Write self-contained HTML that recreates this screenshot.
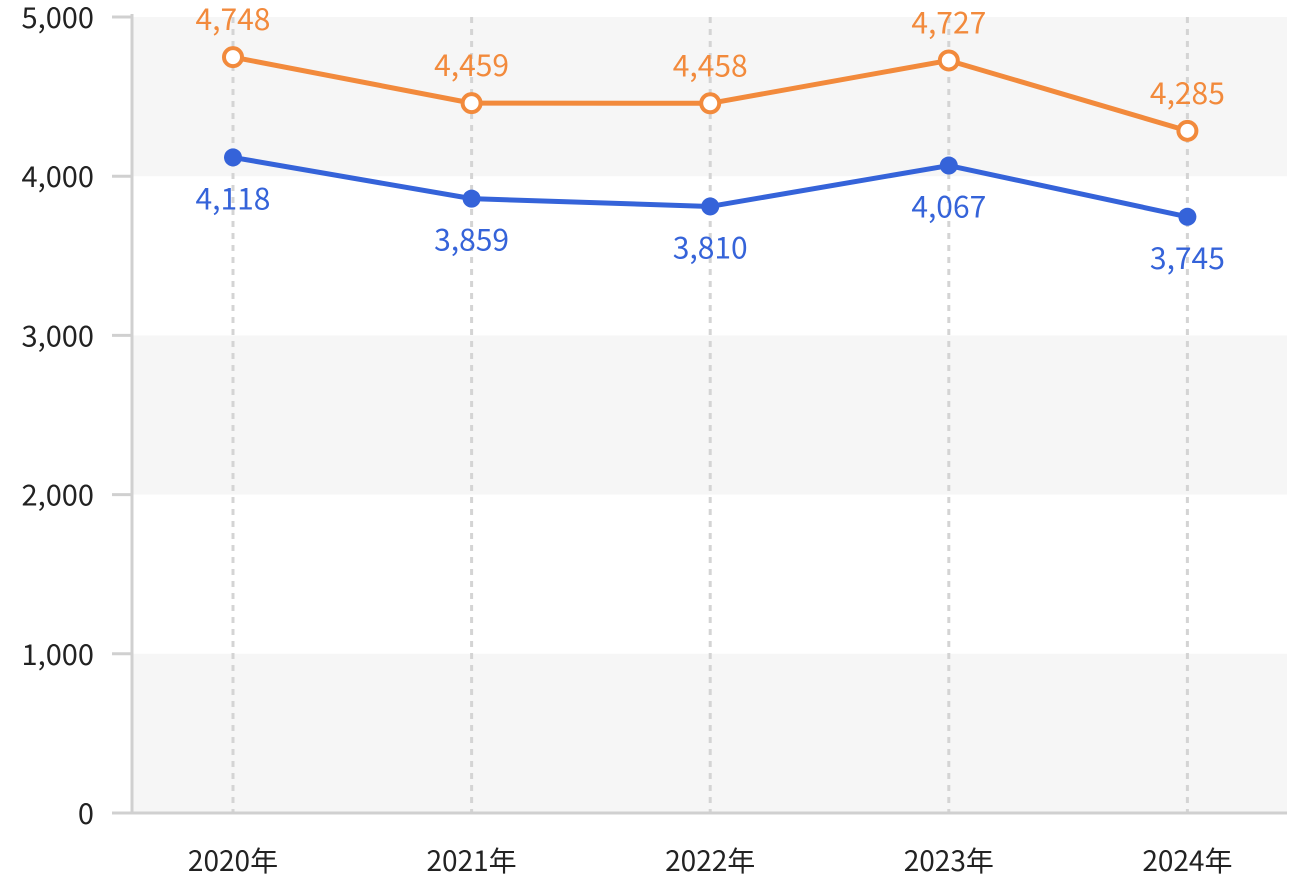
<!DOCTYPE html>
<html><head><meta charset="utf-8"><style>
html,body{margin:0;padding:0;background:#fff;}
svg{display:block;font-family:"Noto Sans CJK JP","Liberation Sans",sans-serif;}
</style></head><body>
<svg id="chart" width="1300" height="876" viewBox="0 0 1300 876"></svg>
<script>
const categories=["2020年","2021年","2022年","2023年","2024年"];
const seriesOrange=[4748,4459,4458,4727,4285];
const seriesBlue=[4118,3859,3810,4067,3745];
const yTicks=[0,1000,2000,3000,4000,5000];
const yTickLabels=["0","1,000","2,000","3,000","4,000","5,000"];
const NS="http://www.w3.org/2000/svg";
const svg=document.getElementById('chart');
const x0=132,x1=1287,yTop=17,yBot=813,yMax=5000;
const step=238.6,first=233;
function xs(i){return first+i*step;}
function ys(v){return yBot-(v/yMax)*(yBot-yTop);}
function mk(t,a,parent){const e=document.createElementNS(NS,t);for(const k in a)e.setAttribute(k,a[k]);(parent||svg).appendChild(e);return e;}
function fmt(v){return v.toLocaleString('en-US');}
for(let i=0;i<yTicks.length-1;i++){
 if(i%2===0){
  const r=mk('rect',{x:x0,y:ys(yTicks[i+1]),width:x1-x0,height:ys(yTicks[i])-ys(yTicks[i+1]),fill:'#f6f6f6'});
  
  
 }
}
categories.forEach((c,i)=>{
 const l=mk('line',{x1:xs(i),x2:xs(i),y1:yTop,y2:yBot,stroke:'#d4d4d4','stroke-width':3,'stroke-dasharray':'6,6'});
 
 
 const t=mk('text',{x:xs(i),y:871,'text-anchor':'middle','font-size':28,fill:'#222'});
 t.textContent=c;
 
 
});
const ya=mk('line',{x1:x0,x2:x0,y1:yTop-3,y2:yBot,stroke:'#d0d0d0','stroke-width':3});


const xa=mk('line',{x1:112,x2:x1,y1:yBot,y2:yBot,stroke:'#d0d0d0','stroke-width':3});


yTicks.forEach((v,i)=>{
 const tk=mk('line',{x1:112,x2:x0,y1:ys(v),y2:ys(v),stroke:'#d0d0d0','stroke-width':3});
 
 
 const t=mk('text',{x:94,y:ys(v)+11,'text-anchor':'end','font-size':29,fill:'#222'});
 t.textContent=yTickLabels[i];
 
 
});
function drawSeries(data,color,hollow,name,labelDy){
 const pts=data.map((v,i)=>xs(i)+','+ys(v)).join(' ');
 const pl=mk('polyline',{points:pts,fill:'none',stroke:color,'stroke-width':5,'stroke-linejoin':'round'});
 
 
 data.forEach((v,i)=>{
  const c=mk('circle',{cx:xs(i),cy:ys(v),r:9,fill:hollow?'#fff':color,stroke:color,'stroke-width':hollow?4:0});
  
  
  const t=mk('text',{x:xs(i),y:ys(v)+labelDy,'text-anchor':'middle','font-size':30,fill:color});
  t.textContent=fmt(v);
  
  
 });
}
drawSeries(seriesOrange,'#f28a3c',true,'orange-series',-27);
drawSeries(seriesBlue,'#3563d9',false,'blue-series',52);
</script>
</body></html>
